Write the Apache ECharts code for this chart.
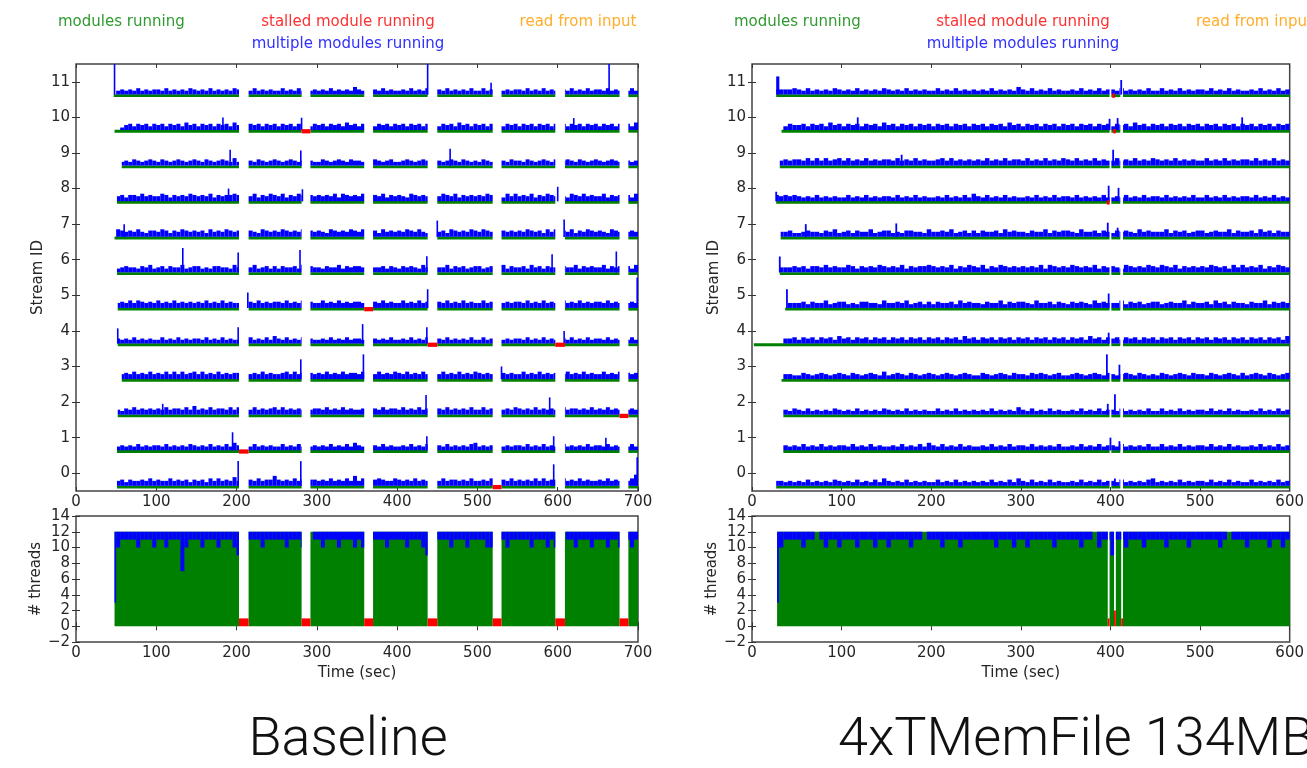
<!DOCTYPE html>
<html>
<head>
<meta charset="utf-8">
<script src="https://cdn.jsdelivr.net/npm/echarts@6/dist/echarts.min.js"></script>
<style>
html, body { margin: 0; padding: 0; background: #fff; }
#chart { width: 1307px; height: 768px; }
</style>
</head>
<body>
<div id="chart"></div>
<script>
var streamIds = [0, 1, 2, 3, 4, 5, 6, 7, 8, 9, 10, 11];
var streamLabels = streamIds.map(String);
var colStep = 5;     // seconds covered by one digit of the level strings
var nThreads = 12;

// ---------- Baseline ----------
var baseEnd = 700;
var baseStart = [51, 51, 52, 57, 52, 52, 51, 48, 51, 57, 48, 47];
var baseCuts = [[203, 215], [281, 292], [359, 370], [438, 450], [519, 530], [597, 609], [677, 688]];
var baseStalls = [[0, 519, 530], [1, 203, 215], [2, 677, 688], [4, 438, 450], [4, 597, 609], [5, 359, 370], [10, 281, 292]];
// [stream, time, height above the stream line]
var baseSpikes = [
  [0, 202, 0.74], [0, 280, 0.74], [0, 595, 0.65], [0, 699, 0.85],
  [1, 195, 0.55], [1, 437, 0.44], [1, 595, 0.44], [1, 660, 0.4],
  [2, 108, 0.35], [2, 436, 0.6], [2, 590, 0.53],
  [3, 280, 0.6], [3, 358, 0.74], [3, 530, 0.4],
  [4, 52, 0.47], [4, 202, 0.5], [4, 357, 0.59], [4, 437, 0.5], [4, 608, 0.4],
  [5, 214, 0.48], [5, 438, 0.57], [5, 699, 0.9],
  [6, 133, 0.73], [6, 202, 0.6], [6, 279, 0.67], [6, 437, 0.5], [6, 593, 0.55], [6, 673, 0.63],
  [7, 60, 0.4], [7, 450, 0.5], [7, 608, 0.53],
  [8, 190, 0.4], [8, 282, 0.38], [8, 600, 0.45],
  [9, 192, 0.49], [9, 280, 0.47], [9, 466, 0.52],
  [10, 183, 0.4], [10, 281, 0.39], [10, 620, 0.38],
  [11, 48, 0.95], [11, 438, 0.94], [11, 517, 0.37], [11, 664, 0.94]
];
// blue level per 5 s column (one string per stream, groups of 50 s)
var baseLevels = [
  '0000000000 3424334353 4335343424 3425353436 3434353447 4343534344 3435343537 3534454335 4343534343 3534434353 3435344353 4343535344 3534353433 4353434358',
  '0000000000 2323242323 3242323243 2324232425 3232423232 2423242323 2324232425 3242324232 2324232423 3242323245 2323242323 3242324232 2423232423 3242323242',
  '0000000000 3243534343 4353443536 3435344353 5343534345 3534343534 4353435343 3453435344 3534353434 4353434353 3534353435 4343534343 3534434353 4353435343',
  '0000000000 0343534353 4353535345 3534353434 4353435343 3453534343 4353435344 3534353435 4353435343 3534353435 4343534343 3534353434 4353435343 3534353434',
  '0000000000 3232423232 2423242323 3242324232 2324232425 3242324232 2324232423 3242323242 2324232423 3242323242 2423242323 3242324232 2324232423 3242323242',
  '0000000000 3435354343 5343534343 4353435343 3534353434 4353435343 3534353434 4353435343 3534353435 4353435343 3534353434 4353435343 3534353434 4353435343',
  '0000000000 2343324352 3424335234 4232443325 3343523424 2433425343 3243352434 4325334243 2434325343 3352434234 4234335243 3425342433 2433524343 3524343425',
  '0000000000 5434353244 3542435434 3425343543 4354325434 3543435243 4325434354 3543425343 4354353243 3425434354 3543524343 4354342535 3435243543 4325435343',
  '0000000000 3424435343 3542434354 3435243445 4343524354 3524354343 4343525434 3543435243 4325434354 3543524343 4354342535 3435243543 4325435343 3524343425',
  '0000000000 0232432343 2432343234 3243234325 2343243234 3234323432 2432343243 3243432342 2343234324 3234324323 2432343243 3243234324 2343243234 3234324323',
  '0000000000 0134243424 3424342534 2434243425 3424342434 2434243424 3424342534 2434243424 3424342434 2434253424 3424342434 2434243424 3424342434 2434243425',
  '0000000000 2323242323 3242323243 2324232324 3232423232 2423242323 2324232325 3242324232 2324232423 3242323242 2423242323 3242324232 2324232423 3242323242'
];
var baseThreadStart = 48;
var baseThreadRed = [1, 1, 1, 1, 1, 1, 1];   // stalled threads inside each gap
// threads running several modules per 5 s column (the rest run one module)
var baseDepth = '0000000009 2111121112 1121115211 1211121112 3001112111 1121112201 1211121112 1200111211 1121112300 1112111211 1122011211 1112111212 0011211121 1121120121';

// ---------- 4xTMemFile 134MB ----------
var memEnd = 600;
var memStart = [27, 35, 35, 33, 2, 37, 31, 32, 27, 31, 33, 27];
var memCuts = [[399, 401], [411, 414]];
var memStalls = [[11, 402, 405], [10, 403, 406], [8, 396, 399]];
var memSpikes = [
  [0, 405, 0.25], [1, 400, 0.4], [1, 410, 0.3],
  [2, 397, 0.35], [2, 405, 0.62], [3, 396, 0.74], [3, 410, 0.45],
  [4, 398, 0.35], [5, 39, 0.57], [5, 398, 0.45],
  [6, 31, 0.49], [7, 60, 0.4], [7, 161, 0.42], [7, 397, 0.44], [7, 408, 0.3],
  [8, 27, 0.31], [8, 398, 0.48], [8, 409, 0.42],
  [9, 167, 0.35], [9, 403, 0.49],
  [10, 118, 0.4], [10, 399, 0.36], [10, 408, 0.38], [10, 547, 0.4],
  [11, 28, 0.55], [11, 29.5, 0.55], [11, 412, 0.45]
];
var memLevels = [
  '0000033232 3242323243 2324232425 3232423232 2423242323 2324232425 3242324232 2324232423 3242323245 2323242323 3242324232 2423232423',
  '0000000323 2423242323 3242324232 2324232425 3242324232 2324232423 3242323242 2324232423 3242323242 2423242323 3242324232 2324232423',
  '0000000324 3242323243 2324232324 3232423232 2423242323 2324232325 3242324232 2324232423 3242323242 2423242323 3242324232 2324232423',
  '0000000332 2432343234 3243234325 2343243234 3234323432 2432343243 3243432342 2343234324 3234324323 2432343243 3243234324 2343243234',
  '0000000334 2434243425 3424342434 2434243424 3424342534 2434243424 3424342434 2434253424 3424342434 2434243424 3424342434 2434243425',
  '0000000033 3424335234 4232443325 3343523424 2433425343 3243352434 4325334243 2434325343 3352434234 4234335243 3425342433 2433524343',
  '0000003334 3424435343 3542434354 3435243445 4343524354 3524354343 4343525434 3543435243 4325434354 3543524343 4354342535 3435243543',
  '0000003342 2343324352 3424335234 4232443325 3343523424 2433425343 3243352434 4325334243 2434325343 3352434234 4234335243 3425342433',
  '0000043434 3232423232 2423242323 3242324232 2324232425 3242324232 2324232423 3242323242 2324232423 3242323242 2423242323 3242324232',
  '0000003434 4353535345 3534353434 4353435343 3453534343 4353435344 3534353435 4353435343 3534353435 4343534343 3534353434 4353435343',
  '0000000243 3424342534 2434243425 3424342434 2434243424 3424342534 2434243424 3424342434 2434253424 3424342434 2434243424 3424342434',
  '0000033334 3242323243 2324232324 3232423232 2423242323 2324232325 3242324232 2324232423 3242323242 2423242323 3242324232 2324232423'
];
var memThreadStart = 28;
var memThreadCuts = [[397, 399], [404, 406], [412, 414]];
var memThreadRed = [1, 2, 1];
var memDepth = '0000092111 1211012112 1112111211 2111121101 1121112111 1111211121 1211111211 1112110211 3112111211 1121111211 1111210111 2111121121';

var GREEN = '#008000', BLUE = '#0000ff', RED = '#ff0000';
var TXT = '#262626';
var FONT = 'DejaVu Sans';
var FS = 15;

function digits(s) {
  return s.replace(/ /g, '').split('').map(Number);
}
var baseLv = baseLevels.map(digits), memLv = memLevels.map(digits);
var baseD = digits(baseDepth), memD = digits(memDepth);

function segmentsFor(start, end, cuts) {
  var segs = [], a = start;
  cuts.forEach(function (c) {
    if (c[0] > a) segs.push([a, c[0]]);
    a = Math.max(a, c[1]);
  });
  if (end > a) segs.push([a, end]);
  return segs;
}

// one stream row of the upper plots
function streamItem(starts, end, cuts, stalls, spikes, levels) {
  return function (params, api) {
    var id = params.dataIndex;
    var unit = api.size([0, 1])[1];
    var yc = api.coord([0, id])[1];
    var lv = levels[id];
    var kids = [];
    function box(t0, t1, a, b, color) {
      var x0 = api.coord([t0, id])[0], x1 = api.coord([t1, id])[0];
      kids.push({type: 'rect', shape: {x: x0, y: yc - b * unit, width: x1 - x0, height: (b - a) * unit}, style: {fill: color}});
    }
    segmentsFor(starts[id], end, cuts).forEach(function (s) {
      box(s[0], s[1], -0.43, -0.35, GREEN);
      for (var k = Math.floor(s[0] / colStep); k * colStep < s[1]; k++) {
        var l = lv[k] || 0;
        if (l > 0) box(Math.max(k * colStep, s[0]), Math.min((k + 1) * colStep, s[1]), -0.355, -0.32 + l * 0.035, BLUE);
      }
    });
    spikes.forEach(function (p) {
      if (p[0] === id) box(p[1] - 1, p[1] + 1, -0.36, p[2] - 0.4, BLUE);
    });
    stalls.forEach(function (p) {
      if (p[0] === id) box(p[1], p[2], -0.45, -0.33, RED);
    });
    return {type: 'group', children: kids};
  };
}

// the # threads plots
function threadItem(start, end, cuts, reds, depth) {
  return function (params, api) {
    var kids = [];
    function box(t0, t1, a, b, color) {
      var p0 = api.coord([t0, a]), p1 = api.coord([t1, b]);
      kids.push({type: 'rect', shape: {x: p0[0], y: p1[1], width: p1[0] - p0[0], height: p0[1] - p1[1]}, style: {fill: color}});
    }
    segmentsFor(start, end, cuts).forEach(function (s) {
      box(s[0], s[1], 0, nThreads, GREEN);
      for (var k = Math.floor(s[0] / colStep); k * colStep < s[1]; k++) {
        var d = depth[k] || 0;
        if (d > 0) box(Math.max(k * colStep, s[0]), Math.min((k + 1) * colStep, s[1]), nThreads - d, nThreads, BLUE);
      }
    });
    cuts.forEach(function (c, i) { box(c[0], c[1], 0, reds[i], RED); });
    return {type: 'group', children: kids};
  };
}

var tick = {show: true, inside: true, length: 4, lineStyle: {color: '#333', width: 1}};
var lbl = {fontFamily: FONT, fontSize: FS, color: TXT};
var nameStyle = {fontFamily: FONT, fontSize: FS, color: TXT};
function timeAxis(grid, max, pos, name) {
  return {
    type: 'value', gridIndex: grid, position: pos, min: 0, max: max, interval: 100,
    axisLine: {show: false}, splitLine: {show: false}, axisTick: tick,
    axisLabel: pos === 'bottom' ? Object.assign({margin: 4, showMinLabel: true, showMaxLabel: true}, lbl) : {show: false},
    name: name || '', nameLocation: 'middle', nameGap: 24, nameTextStyle: nameStyle
  };
}
function streamAxis(grid, pos, name) {
  return {
    type: 'category', gridIndex: grid, position: pos, data: streamLabels,
    axisLine: {show: false}, splitLine: {show: false},
    axisTick: Object.assign({alignWithLabel: true}, tick),
    axisLabel: pos === 'left' ? Object.assign({margin: 6}, lbl) : {show: false},
    name: name || '', nameLocation: 'middle', nameGap: 30, nameTextStyle: nameStyle
  };
}
function threadAxis(grid, pos, name) {
  return {
    type: 'value', gridIndex: grid, position: pos, min: -2, max: 14, interval: 2,
    axisLine: {show: false}, splitLine: {show: false}, axisTick: tick,
    axisLabel: pos === 'left' ? Object.assign({margin: 6, formatter: function (v) { return String(v).replace('-', '\u2212'); }}, lbl) : {show: false},
    name: name || '', nameLocation: 'middle', nameGap: 30, nameTextStyle: nameStyle
  };
}

function legendText(text, x, y, color, align) {
  return {type: 'text', x: x, y: y, silent: true,
    style: {text: text, fill: color, fontFamily: FONT, fontSize: FS,
      align: align, verticalAlign: 'middle', textAlign: align, textVerticalAlign: 'middle'}};
}
function titleText(text, x, align) {
  return {type: 'text', x: x, y: 741, silent: true,
    style: {text: text, fill: '#111', fontFamily: 'Roboto, Lato, sans-serif', fontWeight: 300, fontSize: 54,
      align: align, verticalAlign: 'middle', textAlign: align, textVerticalAlign: 'middle'}};
}

var gridStyle = {show: true, borderColor: '#444', borderWidth: 1.5, backgroundColor: 'transparent'};
var chart = echarts.init(document.getElementById('chart'));
chart.setOption({
  animation: false,
  grid: [
    Object.assign({left: 76, top: 64, width: 562, height: 427}, gridStyle),
    Object.assign({left: 76, top: 516, width: 562, height: 126}, gridStyle),
    Object.assign({left: 752, top: 64, width: 560, height: 427}, gridStyle),
    Object.assign({left: 752, top: 516, width: 560, height: 126}, gridStyle)
  ],
  xAxis: [
    timeAxis(0, baseEnd, 'bottom'), timeAxis(0, baseEnd, 'top'),
    timeAxis(1, baseEnd, 'bottom', 'Time (sec)'), timeAxis(1, baseEnd, 'top'),
    timeAxis(2, memEnd, 'bottom'), timeAxis(2, memEnd, 'top'),
    timeAxis(3, memEnd, 'bottom', 'Time (sec)'), timeAxis(3, memEnd, 'top')
  ],
  yAxis: [
    streamAxis(0, 'left', 'Stream ID'), streamAxis(0, 'right'),
    threadAxis(1, 'left', '# threads'), threadAxis(1, 'right'),
    streamAxis(2, 'left', 'Stream ID'), streamAxis(2, 'right'),
    threadAxis(3, 'left', '# threads'), threadAxis(3, 'right')
  ],
  series: [
    {type: 'custom', xAxisIndex: 0, yAxisIndex: 0, clip: true, silent: true,
      data: streamIds.map(function (i) { return [0, i]; }), encode: {x: 0, y: 1},
      renderItem: streamItem(baseStart, baseEnd, baseCuts, baseStalls, baseSpikes, baseLv)},
    {type: 'custom', xAxisIndex: 2, yAxisIndex: 2, clip: true, silent: true,
      data: [[0, 0]], encode: {x: 0, y: 1},
      renderItem: threadItem(baseThreadStart, baseEnd, baseCuts, baseThreadRed, baseD)},
    {type: 'custom', xAxisIndex: 4, yAxisIndex: 4, clip: true, silent: true,
      data: streamIds.map(function (i) { return [0, i]; }), encode: {x: 0, y: 1},
      renderItem: streamItem(memStart, memEnd, memCuts, memStalls, memSpikes, memLv)},
    {type: 'custom', xAxisIndex: 6, yAxisIndex: 6, clip: true, silent: true,
      data: [[0, 0]], encode: {x: 0, y: 1},
      renderItem: threadItem(memThreadStart, memEnd, memThreadCuts, memThreadRed, memD)}
  ],
  graphic: [
    legendText('modules running', 58, 22, '#2f9a2f', 'left'),
    legendText('stalled module running', 348, 22, '#ff3030', 'center'),
    legendText('multiple modules running', 348, 44, '#3030ff', 'center'),
    legendText('read from input', 578, 22, '#ffad2a', 'center'),
    legendText('modules running', 734, 22, '#2f9a2f', 'left'),
    legendText('stalled module running', 1023, 22, '#ff3030', 'center'),
    legendText('multiple modules running', 1023, 44, '#3030ff', 'center'),
    legendText('read from input', 1196, 22, '#ffad2a', 'left'),
    titleText('Baseline', 348, 'center'),
    titleText('4xTMemFile 134MB', 838, 'left')
  ]
});
</script>
</body>
</html>
